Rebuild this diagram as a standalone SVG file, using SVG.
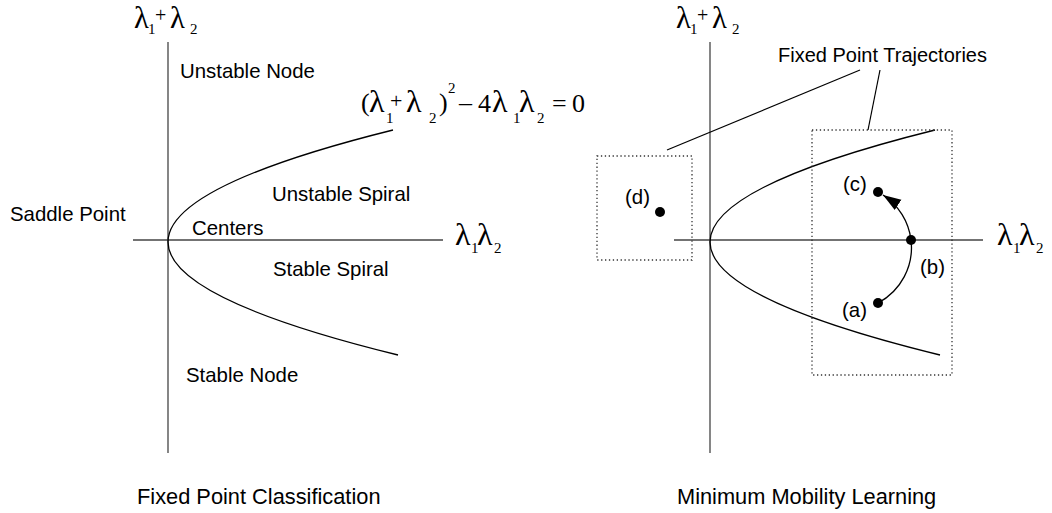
<svg xmlns="http://www.w3.org/2000/svg" width="1052" height="513" viewBox="0 0 1052 513">
<style>
.ax{stroke:#444;stroke-width:1.3;fill:none}
.cv{stroke:#000;stroke-width:1.3;fill:none}
.dot{stroke:#333;stroke-width:1.3;fill:none;stroke-dasharray:1.3 2.6}
.lead{stroke:#000;stroke-width:1.2;fill:none}
.s{font-family:"Liberation Sans",Arial,sans-serif;font-size:20.4px;fill:#000}
.t{font-size:21.8px}
.m{font-family:"Liberation Serif","Times New Roman",serif;font-size:26px;fill:#000}
.l{font-size:32px}
.lt{font-size:30.5px}
.sb{font-size:15px}
.p{font-size:22px}
.pt{font-size:20px}
</style>
<defs>
<path id="curve" d="M393,130 Q168,186 168,242 Q168,298.5 398,355"/>
<marker id="ah" viewBox="0 0 10 10" refX="10" refY="5" markerWidth="18" markerHeight="18" markerUnits="userSpaceOnUse" orient="auto">
<path d="M0,1.6 L10,5 L0,8.4 z" fill="#000"/>
</marker>
</defs>
<g id="left-plot">
<line class="ax" x1="168" y1="42" x2="168" y2="453"/>
<line class="ax" x1="133" y1="240" x2="443" y2="240"/>
<use href="#curve" class="cv"/>
<text class="m"><tspan class="lt" x="134" y="28">λ</tspan><tspan class="sb" x="148" y="34">1</tspan><tspan class="pt" x="155" y="22">+</tspan><tspan class="lt" x="170" y="28">λ</tspan><tspan class="sb" x="190" y="34">2</tspan></text>
<text class="m"><tspan class="l" x="455" y="245">λ</tspan><tspan class="sb" x="471" y="253">1</tspan><tspan class="l" x="477" y="245">λ</tspan><tspan class="sb" x="494" y="253">2</tspan></text>
<text class="m"><tspan x="361" y="111">(</tspan><tspan class="l" x="369" y="112">λ</tspan><tspan class="sb" x="386" y="123">1</tspan><tspan class="p" x="390" y="108">+</tspan><tspan class="l" x="406" y="112">λ</tspan><tspan class="sb" x="429" y="123">2</tspan><tspan x="439" y="111">)</tspan><tspan class="sb" x="448" y="93">2</tspan><tspan x="459" y="111">–</tspan><tspan x="478" y="112">4</tspan><tspan class="l" x="492" y="112">λ</tspan><tspan class="sb" x="513" y="123">1</tspan><tspan class="l" x="519" y="112">λ</tspan><tspan class="sb" x="537" y="123">2</tspan><tspan x="552" y="112">=</tspan><tspan x="572" y="112">0</tspan></text>
<text class="s" x="180" y="78">Unstable Node</text>
<text class="s" x="272" y="201">Unstable Spiral</text>
<text class="s" x="10" y="221">Saddle Point</text>
<text class="s" x="192" y="235">Centers</text>
<text class="s" x="273" y="276">Stable Spiral</text>
<text class="s" x="186" y="382">Stable Node</text>
<text class="s t" x="137" y="504">Fixed Point Classification</text>
</g>
<g id="right-plot">
<line class="ax" x1="710" y1="42" x2="710" y2="453"/>
<line class="ax" x1="674" y1="240" x2="983" y2="240"/>
<use href="#curve" class="cv" transform="translate(542,0)"/>
<text class="m"><tspan class="lt" x="676" y="28">λ</tspan><tspan class="sb" x="690" y="34">1</tspan><tspan class="pt" x="697" y="22">+</tspan><tspan class="lt" x="712" y="28">λ</tspan><tspan class="sb" x="732" y="34">2</tspan></text>
<text class="m"><tspan class="l" x="997" y="245">λ</tspan><tspan class="sb" x="1013" y="253">1</tspan><tspan class="l" x="1019" y="245">λ</tspan><tspan class="sb" x="1036" y="253">2</tspan></text>
<text class="s t" x="677" y="504">Minimum Mobility Learning</text>
</g>
<g id="box-d">
<rect class="dot" x="597" y="156" width="95" height="104"/>
<circle cx="660" cy="212" r="5" fill="#000"/>
<text class="s" x="625" y="204">(d)</text>
</g>
<g id="box-abc">
<rect class="dot" x="812" y="130" width="140" height="245"/>
<circle cx="878" cy="192" r="5" fill="#000"/>
<circle cx="911" cy="240" r="5" fill="#000"/>
<circle cx="878" cy="303" r="5" fill="#000"/>
<text class="s" x="843" y="191">(c)</text>
<text class="s" x="920" y="274">(b)</text>
<text class="s" x="842" y="317">(a)</text>
</g>
<g id="label-trajectories">
<text class="s" x="778" y="62" style="font-size:20px">Fixed Point Trajectories</text>
</g>
<g id="connectors">
<path class="cv" d="M878,303 A62.7,62.7 0 0 0 911,240 A62.7,62.7 0 0 0 883,195" marker-end="url(#ah)"/>
<line class="lead" x1="860" y1="70" x2="667" y2="150"/>
<line class="lead" x1="880" y1="70" x2="868" y2="130"/>
</g>
</svg>
